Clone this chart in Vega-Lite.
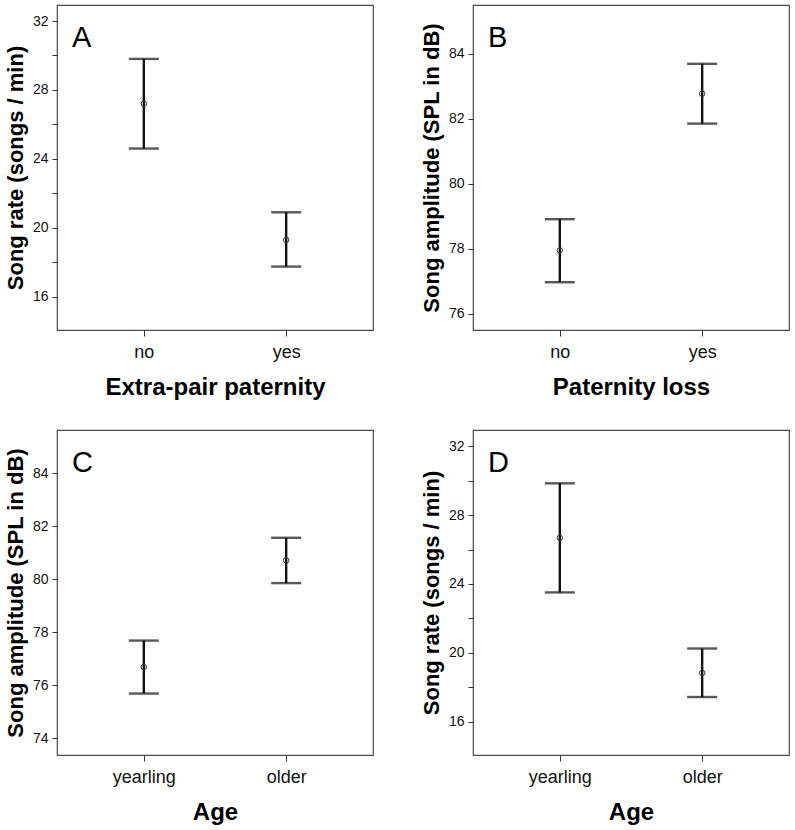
{
  "$schema": "https://vega.github.io/schema/vega-lite/v6.json",
  "background": "white",
  "padding": {"left": 3, "top": 4, "right": 5, "bottom": 5},
  "bounds": "flush",
  "columns": 2,
  "spacing": {"row": 100, "column": 100},
  "concat": [
    {
      "title": {"text": "A"},
      "width": 316, "height": 325,
      "data": {"values": [
        {"group": "no", "mean": 27.2, "lower": 24.6, "upper": 29.8},
        {"group": "yes", "mean": 19.3, "lower": 17.75, "upper": 20.9}
      ]},
      "encoding": {
        "x": {"field": "group", "type": "nominal", "sort": null, "scale": {"type": "point", "padding": 0.61}, "title": "Extra-pair paternity"}
      },
      "layer": [
        {"mark": {"type": "rule", "strokeWidth": 2.4, "color": "#111"},
         "encoding": {"y": {"field": "lower", "type": "quantitative", "title": "Song rate (songs / min)",
           "scale": {"domain": [14.07, 32.93], "nice": false, "zero": false},
           "axis": {"values": [16, 18, 20, 22, 24, 26, 28, 30, 32], "labelExpr": "datum.value % 4 === 0 ? datum.label : ''"}},
           "y2": {"field": "upper"}}},
        {"mark": {"type": "tick", "size": 30, "thickness": 2.4, "color": "#111"},
         "encoding": {"y": {"field": "lower", "type": "quantitative", "title": "Song rate (songs / min)"}}},
        {"mark": {"type": "tick", "size": 30, "thickness": 2.4, "color": "#111"},
         "encoding": {"y": {"field": "upper", "type": "quantitative", "title": "Song rate (songs / min)"}}},
        {"mark": {"type": "point", "shape": "circle", "size": 30, "filled": false, "strokeWidth": 1, "color": "#333", "opacity": 1},
         "encoding": {"y": {"field": "mean", "type": "quantitative", "title": "Song rate (songs / min)"}}}
      ]
    },
    {
      "title": {"text": "B"},
      "width": 316, "height": 325,
      "data": {"values": [
        {"group": "no", "mean": 77.95, "lower": 76.97, "upper": 78.91},
        {"group": "yes", "mean": 82.77, "lower": 81.85, "upper": 83.69}
      ]},
      "encoding": {
        "x": {"field": "group", "type": "nominal", "sort": null, "scale": {"type": "point", "padding": 0.61}, "title": "Paternity loss"}
      },
      "layer": [
        {"mark": {"type": "rule", "strokeWidth": 2.4, "color": "#111"},
         "encoding": {"y": {"field": "lower", "type": "quantitative", "title": "Song amplitude (SPL in dB)",
           "scale": {"domain": [75.5, 85.5], "nice": false, "zero": false},
           "axis": {"values": [76, 77, 78, 79, 80, 81, 82, 83, 84, 85], "labelExpr": "datum.value % 2 === 0 ? datum.label : ''"}},
           "y2": {"field": "upper"}}},
        {"mark": {"type": "tick", "size": 30, "thickness": 2.4, "color": "#111"},
         "encoding": {"y": {"field": "lower", "type": "quantitative", "title": "Song amplitude (SPL in dB)"}}},
        {"mark": {"type": "tick", "size": 30, "thickness": 2.4, "color": "#111"},
         "encoding": {"y": {"field": "upper", "type": "quantitative", "title": "Song amplitude (SPL in dB)"}}},
        {"mark": {"type": "point", "shape": "circle", "size": 30, "filled": false, "strokeWidth": 1, "color": "#333", "opacity": 1},
         "encoding": {"y": {"field": "mean", "type": "quantitative", "title": "Song amplitude (SPL in dB)"}}}
      ]
    },
    {
      "title": {"text": "C"},
      "width": 316, "height": 325,
      "data": {"values": [
        {"group": "yearling", "mean": 76.69, "lower": 75.69, "upper": 77.69},
        {"group": "older", "mean": 80.72, "lower": 79.86, "upper": 81.57}
      ]},
      "encoding": {
        "x": {"field": "group", "type": "nominal", "sort": null, "scale": {"type": "point", "padding": 0.61}, "title": "Age"}
      },
      "layer": [
        {"mark": {"type": "rule", "strokeWidth": 2.4, "color": "#111"},
         "encoding": {"y": {"field": "lower", "type": "quantitative", "title": "Song amplitude (SPL in dB)",
           "scale": {"domain": [73.37, 85.64], "nice": false, "zero": false},
           "axis": {"values": [74, 75, 76, 77, 78, 79, 80, 81, 82, 83, 84, 85], "labelExpr": "datum.value % 2 === 0 ? datum.label : ''"}},
           "y2": {"field": "upper"}}},
        {"mark": {"type": "tick", "size": 30, "thickness": 2.4, "color": "#111"},
         "encoding": {"y": {"field": "lower", "type": "quantitative", "title": "Song amplitude (SPL in dB)"}}},
        {"mark": {"type": "tick", "size": 30, "thickness": 2.4, "color": "#111"},
         "encoding": {"y": {"field": "upper", "type": "quantitative", "title": "Song amplitude (SPL in dB)"}}},
        {"mark": {"type": "point", "shape": "circle", "size": 30, "filled": false, "strokeWidth": 1, "color": "#333", "opacity": 1},
         "encoding": {"y": {"field": "mean", "type": "quantitative", "title": "Song amplitude (SPL in dB)"}}}
      ]
    },
    {
      "title": {"text": "D"},
      "width": 316, "height": 325,
      "data": {"values": [
        {"group": "yearling", "mean": 26.68, "lower": 23.51, "upper": 29.85},
        {"group": "older", "mean": 18.83, "lower": 17.43, "upper": 20.25}
      ]},
      "encoding": {
        "x": {"field": "group", "type": "nominal", "sort": null, "scale": {"type": "point", "padding": 0.61}, "title": "Age"}
      },
      "layer": [
        {"mark": {"type": "rule", "strokeWidth": 2.4, "color": "#111"},
         "encoding": {"y": {"field": "lower", "type": "quantitative", "title": "Song rate (songs / min)",
           "scale": {"domain": [14.06, 32.95], "nice": false, "zero": false},
           "axis": {"values": [16, 18, 20, 22, 24, 26, 28, 30, 32], "labelExpr": "datum.value % 4 === 0 ? datum.label : ''"}},
           "y2": {"field": "upper"}}},
        {"mark": {"type": "tick", "size": 30, "thickness": 2.4, "color": "#111"},
         "encoding": {"y": {"field": "lower", "type": "quantitative", "title": "Song rate (songs / min)"}}},
        {"mark": {"type": "tick", "size": 30, "thickness": 2.4, "color": "#111"},
         "encoding": {"y": {"field": "upper", "type": "quantitative", "title": "Song rate (songs / min)"}}},
        {"mark": {"type": "point", "shape": "circle", "size": 30, "filled": false, "strokeWidth": 1, "color": "#333", "opacity": 1},
         "encoding": {"y": {"field": "mean", "type": "quantitative", "title": "Song rate (songs / min)"}}}
      ]
    }
  ],
  "config": {
    "font": "Liberation Sans",
    "view": {"stroke": "#4a4a4a", "strokeWidth": 1.2},
    "title": {"anchor": "start", "frame": "group", "offset": -48, "dx": 15, "fontSize": 29, "fontWeight": "normal", "baseline": "alphabetic", "font": "Liberation Sans", "color": "#000"},
    "axis": {"labelFont": "Liberation Sans", "labelColor": "#111", "labelFontSize": 14, "tickColor": "#333", "tickSize": 5, "domain": false, "grid": false, "titleFont": "Liberation Sans", "titleFontWeight": "bold", "titleColor": "#000"},
    "axisX": {"labelFontSize": 18, "labelAngle": 0, "labelPadding": 7, "titleFontSize": 24, "titlePadding": 14, "tickSize": 6},
    "axisY": {"titleFontSize": 22, "labelPadding": 4, "titlePadding": 5}
  }
}
